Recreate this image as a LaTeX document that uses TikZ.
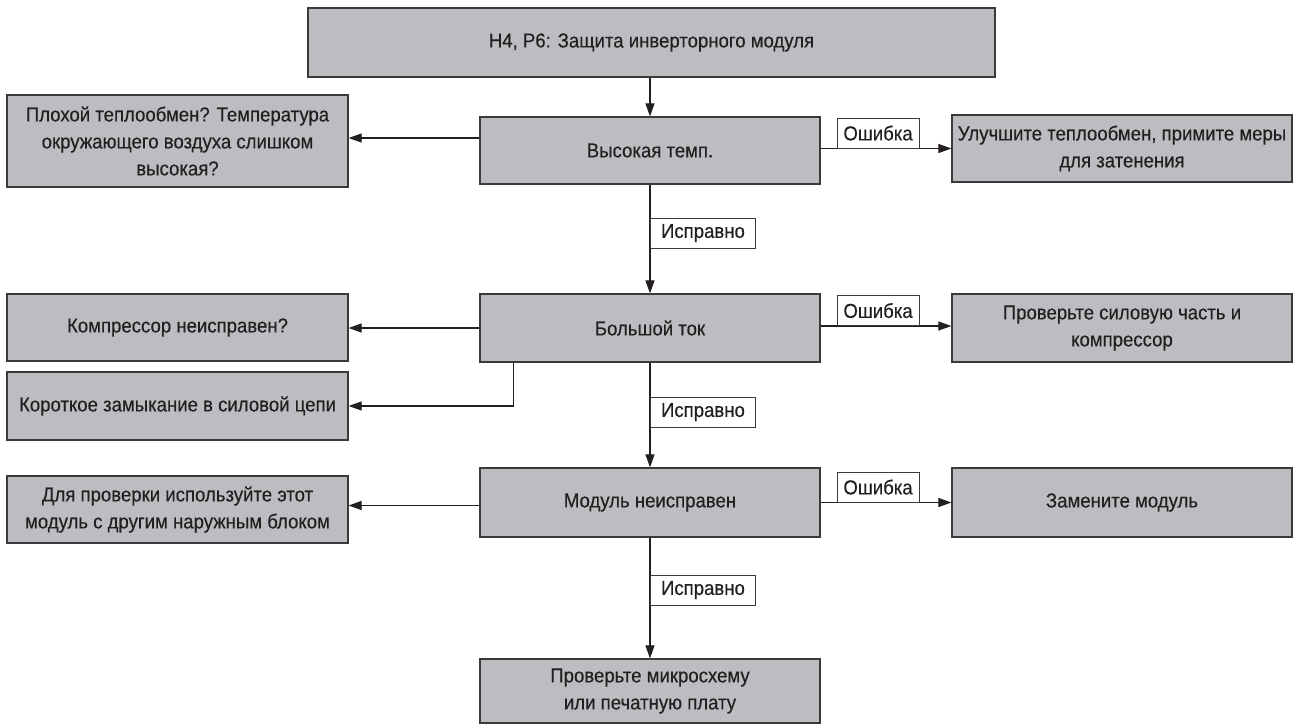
\documentclass[tikz,border=0pt]{standalone}
\usepackage{fontspec}
\setmainfont{Liberation Sans}[FakeStretch=0.92,FakeBold=0.3]
\usetikzlibrary{arrows.meta,calc}
\definecolor{boxfill}{HTML}{BCBDC0}
\definecolor{boxline}{HTML}{3A3A3A}
\definecolor{ink}{HTML}{231F20}
\begin{document}
\begin{tikzpicture}[x=1pt,y=-1pt,
  box/.style={draw=boxline, line width=1.2pt, fill=boxfill, text=ink, align=center, inner sep=0pt,
    font=\fontsize{20.2}{27}\selectfont},
  lblerr/.style={draw=boxline, line width=0.9pt, fill=white, text=ink, inner sep=0pt,
    minimum width=82pt, minimum height=30pt, font=\fontsize{20.2}{27}\selectfont},
  lblok/.style={lblerr, minimum width=105pt},
  arr/.style={draw=ink, line width=1.1pt, -{Triangle[length=13pt,width=9pt]}},
  ln/.style={draw=ink, line width=1.1pt}]
\useasboundingbox (0,0) rectangle (1302,724);
\fill[white] (0,0) rectangle (1302,724);

\node[box, minimum width=687pt, minimum height=69pt] (top) at (651.5,42.5) {H4, P6: Защита инверторного модуля};

\node[box, minimum width=340pt, minimum height=67pt] (t1) at (650,150.5) {Высокая темп.};
\node[box, minimum width=341pt, minimum height=92pt] (l1) at (177.5,141) {Плохой теплообмен? Температура\\окружающего воздуха слишком\\высокая?};
\node[box, minimum width=340pt, minimum height=67pt] (r1) at (1122,148.5) {Улучшите теплообмен, примите меры\\для затенения};

\node[box, minimum width=340pt, minimum height=68pt] (t2) at (650,328) {Большой ток};
\node[box, minimum width=341pt, minimum height=67pt] (l2) at (177.5,327.5) {Компрессор неисправен?};
\node[box, minimum width=341pt, minimum height=68pt] (l3) at (177.5,406) {Короткое замыкание в силовой цепи};
\node[box, minimum width=340pt, minimum height=68pt] (r2) at (1122,328) {Проверьте силовую часть и\\компрессор};

\node[box, minimum width=340pt, minimum height=69pt] (t3) at (650,502.5) {Модуль неисправен};
\node[box, minimum width=341pt, minimum height=67pt] (l4) at (177.5,509.5) {Для проверки используйте этот\\модуль с другим наружным блоком};
\node[box, minimum width=340pt, minimum height=69pt] (r3) at (1122,502.5) {Замените модуль};

\node[box, minimum width=340pt, minimum height=64pt] (bot) at (650,691) {Проверьте микросхему\\или печатную плату};

% row 1
\draw[arr] (top.south -| t1.north) -- (t1.north);
\draw[arr] ([yshift=12.5pt]t1.west) -- ([yshift=12.5pt]t1.west -| l1.east);
\draw[arr] (t1.east |- r1.west) -- (r1.west);
\node[lblerr, anchor=south west] (e1) at ([xshift=16pt]t1.east |- r1.west) {Ошибка};
\draw[arr] (t1.south) -- (t2.north);
\node[lblok, anchor=north west] (o1) at ([yshift=-33pt]t1.south) {Исправно};

% row 2
\draw[arr] (t2.west) -- (t2.west -| l2.east);
\draw[arr] ([xshift=34pt]t2.south west) |- (l3.east);
\draw[arr] ([yshift=2pt]t2.east) -- ([yshift=2pt]t2.east -| r2.west);
\node[lblerr, anchor=south west] (e2) at ([xshift=16pt,yshift=2pt]t2.east) {Ошибка};
\draw[arr] (t2.south) -- (t3.north);
\node[lblok, anchor=north west] (o2) at ([yshift=-34pt]t2.south) {Исправно};

% row 3
\draw[arr] ([yshift=-3pt]t3.west) -- ([yshift=-3pt]t3.west -| l4.east);
\draw[arr] (t3.east) -- (r3.west);
\node[lblerr, anchor=south west] (e3) at ([xshift=16pt]t3.east) {Ошибка};
\draw[arr] (t3.south) -- (bot.north);
\node[lblok, anchor=north west] (o3) at ([yshift=-37pt]t3.south) {Исправно};
\end{tikzpicture}
\end{document}
